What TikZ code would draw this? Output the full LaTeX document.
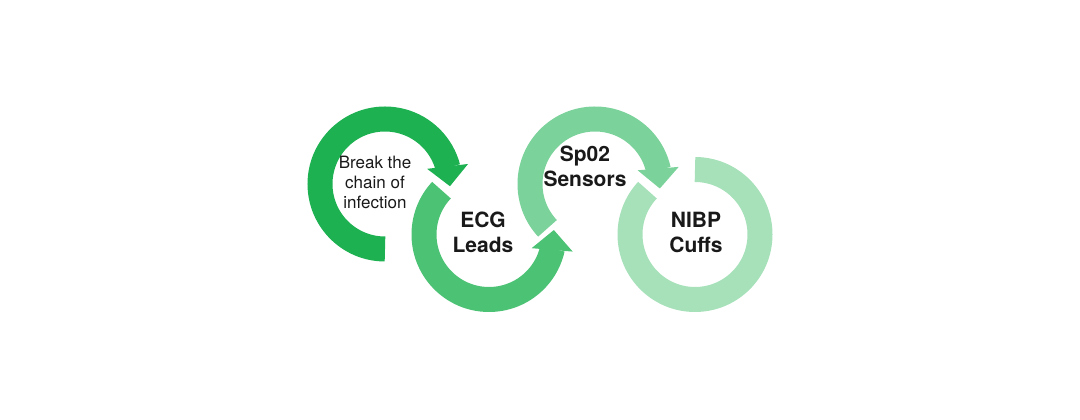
\documentclass[tikz,border=0pt]{standalone}
\usepackage{fontspec}
\setmainfont{TeX Gyre Heros}
\usepackage{xcolor}
\usepackage{tikz}
\usetikzlibrary{arrows.meta,bending}
\definecolor{ringA}{HTML}{1DB152}
\definecolor{ringB}{HTML}{4CC275}
\definecolor{ringC}{HTML}{7BD39B}
\definecolor{ringD}{HTML}{A6E1BA}
\tikzset{
  ring/.style={line width=25pt},
  ringarrow/.style={ring,-{Triangle[width=40pt,length=20pt,flex]}},
  smalltext/.style={align=center,font=\fontsize{17}{20}\selectfont,text=black!90},
  bigtext/.style={align=center,font=\fontsize{21}{25}\selectfont\bfseries,text=black!90}
}

\begin{document}
\begin{tikzpicture}[x=1pt,y=1pt]
\useasboundingbox (0,0) rectangle (1080,420);
\coordinate (c1) at (385,236);
\coordinate (c2) at (489,185.5);
\coordinate (c3) at (595,236);
\coordinate (c4) at (695,185.5);
\draw[ringD,ring] (c4) ++(90:65) arc[start angle=90,end angle=-223,radius=65];
\draw[ringC,ringarrow] (c3) ++(223:65) arc[start angle=223,end angle=-4,radius=65];
\draw[ringB,ringarrow] (c2) ++(137:65) arc[start angle=137,end angle=364,radius=65];
\draw[ringA,ringarrow] (c1) ++(270:65) arc[start angle=270,end angle=-2,radius=65];
\node[smalltext] (break) at (375,238) {Break the\\chain of\\infection};
\node[bigtext] (ecg) at (483,188) {ECG\\Leads};
\node[bigtext] (spo) at (585,253.5) {Sp02\\Sensors};
\node[bigtext] (nibp) at (696,187.5) {NIBP\\Cuffs};
\end{tikzpicture}
\end{document}
